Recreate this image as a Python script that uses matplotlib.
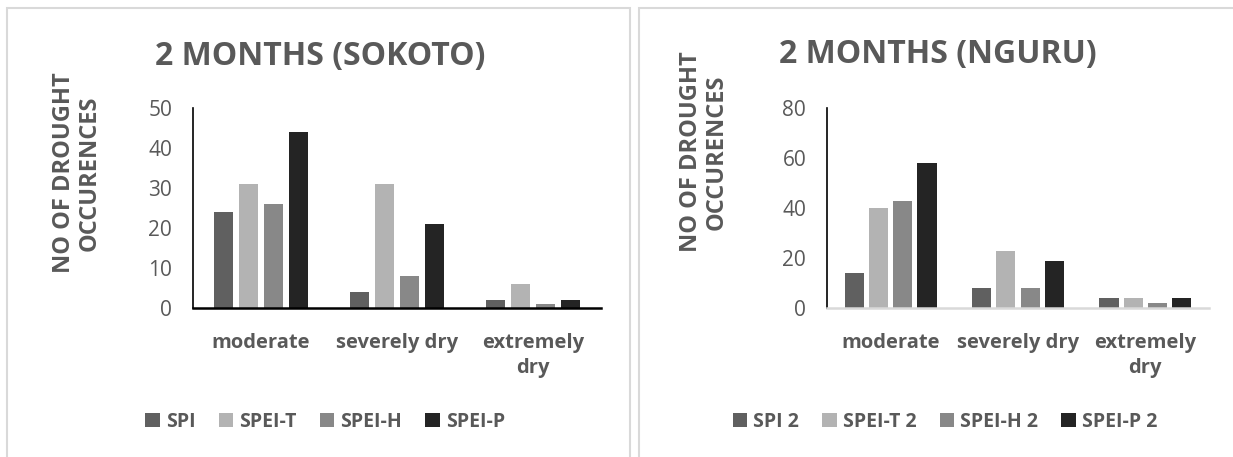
import matplotlib.pyplot as plt
from matplotlib.patches import Rectangle
import numpy as np

plt.rcParams['font.family'] = ['Open Sans', 'DejaVu Sans']

categories = ["moderate", "severely dry", "extremely\ndry"]

sokoto_names = ["SPI", "SPEI-T", "SPEI-H", "SPEI-P"]
sokoto_spi = [24, 4, 2]
sokoto_spei_t = [31, 31, 6]
sokoto_spei_h = [26, 8, 1]
sokoto_spei_p = [44, 21, 2]

nguru_names = ["SPI 2", "SPEI-T 2", "SPEI-H 2", "SPEI-P 2"]
nguru_spi = [14, 8, 4]
nguru_spei_t = [40, 23, 4]
nguru_spei_h = [43, 8, 2]
nguru_spei_p = [58, 19, 4]

sokoto_ticks = [0, 10, 20, 30, 40, 50]
nguru_ticks = [0, 20, 40, 60, 80]

bar_colors = ["#606060", "#b3b3b3", "#888888", "#242424"]
txt = "#595959"
border = "#d9d9d9"

W, H = 1233, 457
fig = plt.figure(figsize=(W / 100, H / 100), dpi=100)


def px_axes(x0, x1, ytop, ybot):
    return fig.add_axes([x0 / W, 1 - ybot / H, (x1 - x0) / W, (ybot - ytop) / H])


# panel frames
fig.patches.append(Rectangle((7 / W, -0.1), (630 - 7) / W, 1.1 - 8 / H, transform=fig.transFigure,
                             fill=False, edgecolor=border, lw=1.5))
fig.patches.append(Rectangle((639 / W, -0.1), 0.5, 1.1 - 8 / H, transform=fig.transFigure,
                             fill=False, edgecolor=border, lw=1.5))


def draw_panel(ax, series, names, ticks, bw, gap, xaxis_color, title, tx, ty, lx, ly, legx):
    x = np.arange(len(categories))
    offsets = (np.arange(4) - 1.5) * (bw + gap)
    for vals, off, c, n in zip(series, offsets, bar_colors, names):
        ax.bar(x + off, vals, bw, color=c, label=n)
    ax.set_xlim(-0.5, len(categories) - 0.5)
    ax.set_ylim(ticks[0], ticks[-1])
    ax.set_yticks(ticks)
    ax.set_xticks(x)
    ax.set_xticklabels(categories, fontsize=14.5, fontweight="bold", color=txt, linespacing=1.3)
    ax.tick_params(axis="y", length=0, pad=15, labelsize=15, labelcolor=txt)
    ax.tick_params(axis="x", length=0, pad=18)
    for s in ["top", "right"]:
        ax.spines[s].set_visible(False)
    ax.spines["left"].set_color("black")
    ax.spines["left"].set_linewidth(1.2)
    ax.spines["bottom"].set_color(xaxis_color)
    ax.spines["bottom"].set_linewidth(1.8)
    ax.set_facecolor("none")
    fig.text(tx / W, 1 - ty / H, title, ha="center", va="center", fontsize=23,
             fontweight="bold", color=txt)
    fig.text(lx / W, 1 - ly / H, "NO OF DROUGHT\nOCCURENCES", rotation=90, ha="center",
             va="center", multialignment="center", fontsize=17, fontweight="bold", color=txt,
             linespacing=1.1)
    h, l = ax.get_legend_handles_labels()
    fig.legend(h, l, loc="center", bbox_to_anchor=(legx / W, 1 - 422 / H), ncol=4,
               frameon=False, handlelength=0.75, handleheight=0.75, handletextpad=0.3,
               columnspacing=1.2, prop={"size": 14, "weight": "bold"}, labelcolor=txt)


ax1 = px_axes(193, 601, 108, 308)
draw_panel(ax1, [sokoto_spi, sokoto_spei_t, sokoto_spei_h, sokoto_spei_p], sokoto_names,
           sokoto_ticks, 0.143, 0.04, "black", "2 MONTHS (SOKOTO)", 320, 57, 77, 173, 325)

ax2 = px_axes(827, 1209, 108, 308)
draw_panel(ax2, [nguru_spi, nguru_spei_t, nguru_spei_h, nguru_spei_p], nguru_names,
           nguru_ticks, 0.15, 0.04, border, "2 MONTHS (NGURU)", 938, 55, 704, 152, 945)

fig.savefig("out.png", dpi=100)
